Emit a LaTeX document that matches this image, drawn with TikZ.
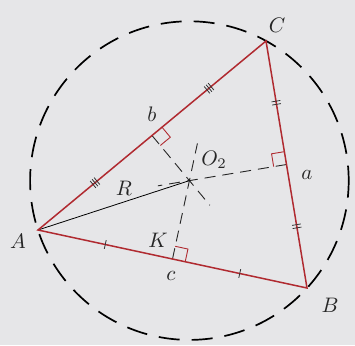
\documentclass[tikz,border=0pt]{standalone}
\usetikzlibrary{calc}
\definecolor{bgc}{RGB}{230,230,232}
\definecolor{sidec}{RGB}{176,42,48}
\tikzset{
  side/.style={draw=sidec, line width=1.5pt},
  bisect/.style={draw=black!85, line width=0.9pt, dash pattern=on 11pt off 7pt},
  rangle/.style={draw=sidec, line width=0.9pt},
  tick/.style={draw=black!80, line width=0.8pt},
  lab/.style={scale=2.1, transform shape, inner sep=0pt, text=black!85}
}
\begin{document}
\begin{tikzpicture}[x=1pt,y=-1pt]
\fill[bgc] (0,0) rectangle (355,345);
\useasboundingbox (0,0) rectangle (355,345);
\coordinate (A) at (38,230);
\coordinate (B) at (307,288);
\coordinate (C) at (266,41);
\coordinate (O) at (189.4,180.6);
\coordinate (Fb) at ($(A)!0.5!(C)$);
\coordinate (Fa) at ($(C)!0.5!(B)$);
\coordinate (Fc) at ($(A)!0.5!(B)$);
% circumcircle
\draw[line width=1.7pt, dash pattern=on 21pt off 12pt, dash phase=4pt] (O) circle (159.3);
% perpendicular bisectors
\draw[bisect] (Fb) -- ($(O)!-32pt!(Fb)$);
\draw[bisect] (Fa) -- ($(O)!-32pt!(Fa)$);
\draw[bisect] (Fc) -- ($(O)!-38pt!(Fc)$);
% radius
\draw[line width=0.8pt] (A) -- (O);
% right angle marks
\draw[rangle] ($(Fb)!13pt!(C)$) -- ($(Fb)!13pt!(C)+(Fb)!13pt!(O)-(Fb)$) -- ($(Fb)!13pt!(O)$);
\draw[rangle] ($(Fa)!13pt!(C)$) -- ($(Fa)!13pt!(C)+(Fa)!13pt!(O)-(Fa)$) -- ($(Fa)!13pt!(O)$);
\draw[rangle] ($(Fc)!13pt!(B)$) -- ($(Fc)!13pt!(B)+(Fc)!13pt!(O)-(Fc)$) -- ($(Fc)!13pt!(O)$);
% sides
\draw[side] (A) -- (B) -- (C) -- cycle;
% tick marks
\foreach \p in {0.25,0.75}{
  \draw[tick] ($($(A)!\p!(B)$)!4.5pt!90:(B)$) -- ($($(A)!\p!(B)$)!4.5pt!-90:(B)$);
  \foreach \d in {-1.6,1.6}{
    \draw[tick] ($($(C)!\p!(B)$)+($(C)!\d pt!(B)-(C)$)$) coordinate (t) -- ($(t)!4.5pt!90:(B)$);
    \draw[tick] ($($(C)!\p!(B)$)+($(C)!\d pt!(B)-(C)$)$) coordinate (t) -- ($(t)!4.5pt!-90:(B)$);
  }
  \foreach \d in {-2.6,0,2.6}{
    \draw[tick] ($($(A)!\p!(C)$)+($(A)!\d pt!(C)-(A)$)$) coordinate (t) -- ($(t)!4.5pt!90:(C)$);
    \draw[tick] ($($(A)!\p!(C)$)+($(A)!\d pt!(C)-(A)$)$) coordinate (t) -- ($(t)!4.5pt!-90:(C)$);
  }
}
% labels
\node[lab] (lA) at (18,241) {$A$};
\node[lab] (lB) at (330,305) {$B$};
\node[lab] (lC) at (277,25) {$C$};
\node[lab] (la) at (307,175) {$a$};
\node[lab] (lb) at (152,114) {$b$};
\node[lab] (lc) at (171,276) {$c$};
\node[lab] (lR) at (124,188) {$R$};
\node[lab] (lK) at (158,240) {$K$};
\node[lab] (lO) at (214,160) {$O_2$};
\end{tikzpicture}
\end{document}
